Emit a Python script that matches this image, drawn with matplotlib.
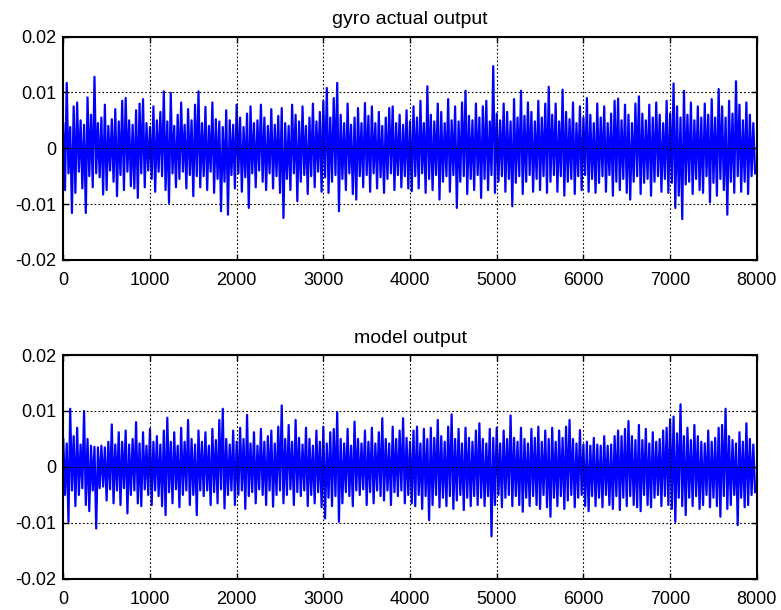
import matplotlib
matplotlib.use('Agg')
import matplotlib.pyplot as plt
import numpy as np

plt.rcParams['font.family'] = ['Liberation Sans', 'DejaVu Sans']
plt.rcParams['axes.unicode_minus'] = False

# each stored value is the peak (upper) or trough (lower) of a 40-sample bin
bin_size = 40

# gyro actual output, units of 1e-3
gyro_upper = [
    4.5, 11.7, 3.8, 7.5, 8.2, 5.0, 4.2, 9.1, 6.0, 12.8, 4.5, 5.5, 7.8, 4.0, 5.2, 7.0, 4.8, 8.5, 9.0, 5.0,
    4.2, 6.8, 8.0, 8.8, 4.5, 3.8, 7.5, 5.0, 6.5, 10.2, 4.8, 9.9, 4.0, 6.0, 8.2, 4.2, 7.0, 5.0, 7.8, 10.2,
    4.5, 7.4, 4.0, 8.2, 5.2, 4.8, 3.8, 6.8, 5.0, 4.2, 7.8, 5.5, 3.8, 6.2, 7.5, 4.5, 5.0, 7.8, 5.5, 4.0,
    7.0, 4.2, 5.8, 7.2, 4.5, 4.0, 7.8, 6.0, 4.8, 7.5, 4.0, 5.5, 8.0, 4.8, 6.5, 8.5, 10.8, 5.5, 9.0, 11.7,
    6.0, 4.5, 8.0, 4.2, 5.5, 7.2, 4.5, 8.1, 5.8, 7.5, 4.5, 6.5, 4.0, 5.5, 7.2, 7.5, 4.5, 6.0, 4.2, 6.8,
    4.8, 7.5, 5.5, 8.5, 4.5, 11.1, 6.0, 4.8, 8.0, 6.5, 4.5, 8.8, 5.0, 7.5, 4.8, 8.2, 10.3, 5.8, 5.0, 8.0,
    5.5, 7.5, 8.5, 4.8, 14.7, 6.2, 5.0, 8.0, 6.5, 4.8, 8.8, 5.5, 10.3, 5.8, 8.2, 6.5, 4.8, 8.5, 5.5, 8.0,
    11.0, 6.0, 8.0, 4.8, 10.5, 6.5, 5.2, 8.2, 4.5, 7.5, 5.5, 9.0, 6.0, 4.5, 8.0, 5.5, 7.5, 4.5, 6.2, 8.5,
    8.9, 5.0, 7.8, 6.0, 4.5, 8.0, 9.3, 6.2, 5.0, 7.8, 5.5, 8.2, 6.0, 4.5, 8.5, 6.2, 11.6, 7.5, 5.5, 10.3,
    6.0, 8.2, 5.0, 7.5, 5.5, 8.0, 6.0, 8.8, 5.5, 10.6, 7.5, 5.5, 8.5, 6.2, 12.0, 7.8, 5.0, 8.2, 6.0, 4.5]
gyro_lower = [
    -7.5, -4.5, -11.6, -8.0, -4.2, -7.2, -11.6, -5.0, -7.0, -4.5, -5.2, -8.3, -7.5, -4.0, -6.0, -8.6, -4.8, -7.5, -4.2, -6.8,
    -7.2, -8.9, -4.5, -7.0, -4.0, -5.5, -7.8, -4.2, -5.0, -7.5, -9.8, -4.5, -7.0, -5.5, -4.2, -7.2, -4.8, -8.6, -5.0, -7.0,
    -5.0, -7.5, -4.2, -8.0, -5.5, -11.3, -6.0, -11.9, -4.8, -7.2, -4.5, -7.8, -5.2, -10.7, -4.5, -7.0, -4.0, -6.0, -7.5, -4.5,
    -7.2, -5.0, -8.0, -12.5, -5.5, -7.5, -4.5, -9.5, -6.0, -4.8, -8.2, -5.0, -7.0, -4.2, -7.8, -5.2, -8.0, -6.0, -4.8, -11.3,
    -5.5, -7.5, -4.5, -8.2, -9.2, -5.0, -7.0, -4.8, -7.8, -4.5, -7.2, -5.2, -8.0, -5.5, -4.5, -7.5, -4.8, -7.0, -5.0, -7.2,
    -7.7, -5.0, -7.2, -4.5, -8.0, -5.5, -7.5, -4.8, -9.2, -6.0, -5.0, -7.8, -4.8, -10.7, -6.0, -5.0, -8.2, -5.5, -7.5, -4.8,
    -8.9, -5.5, -7.5, -4.8, -8.0, -6.0, -5.0, -7.8, -5.5, -10.4, -6.2, -5.0, -8.2, -6.0, -4.8, -7.8, -5.5, -7.5, -5.0, -8.0,
    -6.0, -4.8, -7.8, -5.0, -8.5, -6.0, -5.5, -8.2, -5.0, -7.5, -4.8, -7.8, -5.5, -8.0, -6.2, -5.0, -7.8, -4.8, -8.5, -6.0,
    -7.5, -5.5, -8.0, -9.2, -6.0, -5.0, -8.2, -6.2, -5.5, -8.5, -6.0, -5.0, -7.8, -5.5, -8.0, -6.2, -10.7, -8.5, -12.7, -6.5,
    -6.0, -8.2, -5.5, -7.5, -8.0, -5.0, -9.7, -6.2, -8.5, -5.5, -7.5, -11.9, -6.0, -8.0, -5.0, -7.8, -6.0, -8.2, -5.0, -4.5]

# model output, units of 1e-3
model_upper = [
    5.0, 4.2, 10.4, 5.5, 7.0, 4.0, 10.0, 5.0, 3.8, 3.6, 3.5, 3.8, 3.5, 4.5, 7.6, 4.0, 6.2, 4.5, 6.5, 4.0,
    5.0, 8.0, 4.2, 6.2, 3.8, 6.8, 4.5, 5.5, 4.0, 6.5, 8.8, 4.5, 6.2, 3.8, 7.0, 4.5, 8.4, 5.0, 4.0, 6.5,
    4.5, 6.2, 3.8, 6.8, 4.8, 8.4, 10.4, 5.0, 4.0, 6.5, 4.5, 7.0, 5.0, 9.3, 4.2, 6.2, 3.8, 6.8, 4.5, 5.5,
    6.5, 4.2, 7.2, 11.0, 5.0, 7.5, 4.5, 8.4, 5.2, 4.0, 7.0, 5.0, 3.8, 6.5, 4.5, 7.2, 4.2, 6.2, 6.8, 9.8,
    5.0, 4.2, 6.8, 3.8, 8.1, 5.0, 4.2, 6.5, 4.5, 7.0, 4.2, 6.2, 8.7, 5.0, 4.2, 7.2, 5.0, 6.5, 8.7, 5.2,
    4.5, 6.5, 7.2, 4.2, 6.8, 5.0, 7.0, 5.2, 8.4, 5.5, 4.5, 7.2, 9.4, 5.0, 6.8, 4.2, 7.0, 5.2, 4.5, 6.5,
    7.8, 5.0, 4.2, 6.8, 5.2, 7.0, 4.2, 6.5, 5.0, 9.2, 5.2, 4.5, 7.0, 5.0, 4.2, 6.8, 5.2, 7.2, 4.5, 6.5,
    5.0, 7.0, 4.5, 6.5, 5.2, 7.2, 8.4, 5.0, 4.2, 6.6, 4.0, 4.5, 3.8, 5.2, 4.0, 3.8, 5.5, 3.8, 4.0, 5.5,
    6.5, 5.5, 6.8, 8.2, 5.5, 4.8, 7.5, 4.8, 6.8, 4.2, 6.2, 4.5, 5.0, 6.5, 7.0, 8.5, 9.0, 6.0, 11.2, 5.5,
    7.0, 4.8, 7.5, 5.5, 4.5, 4.2, 6.5, 4.5, 5.2, 7.0, 7.5, 10.4, 5.5, 4.8, 4.2, 6.2, 4.5, 7.8, 5.0, 4.0]
model_lower = [
    -5.0, -9.8, -4.2, -7.0, -5.0, -3.8, -6.8, -7.9, -4.2, -11.0, -3.8, -3.5, -6.0, -4.0, -6.5, -4.2, -6.8, -3.8, -8.3, -5.0,
    -4.2, -6.5, -7.0, -4.0, -5.0, -6.8, -4.2, -5.2, -7.0, -8.6, -4.5, -6.5, -4.0, -7.2, -5.0, -4.2, -6.8, -5.0, -8.6, -4.2,
    -5.2, -4.2, -6.8, -4.5, -6.5, -4.0, -7.4, -5.0, -4.2, -6.8, -5.0, -4.2, -7.5, -5.2, -4.5, -6.5, -4.0, -5.0, -6.8, -4.2,
    -7.1, -5.0, -4.2, -6.5, -5.0, -4.0, -6.8, -4.5, -5.2, -4.2, -7.0, -5.0, -6.5, -4.5, -7.2, -9.2, -5.5, -7.0, -5.2, -9.8,
    -6.5, -4.5, -5.2, -7.0, -4.2, -5.0, -4.0, -6.8, -4.5, -6.5, -4.2, -5.2, -6.0, -4.2, -6.8, -4.5, -5.2, -4.2, -6.5, -5.0,
    -6.5, -7.0, -5.0, -7.5, -5.2, -9.5, -6.8, -5.0, -7.2, -5.5, -7.0, -5.2, -7.5, -6.0, -5.0, -7.7, -5.5, -7.0, -5.2, -6.8,
    -5.5, -7.0, -5.2, -12.4, -6.8, -5.0, -7.2, -5.5, -5.0, -7.0, -5.2, -6.8, -8.0, -5.5, -7.0, -5.2, -6.8, -7.5, -5.0, -7.2,
    -8.9, -5.5, -7.0, -5.2, -7.5, -6.0, -5.0, -7.2, -5.5, -5.0, -7.0, -7.9, -5.2, -7.0, -5.5, -7.2, -5.0, -6.8, -7.5, -5.2,
    -7.7, -5.5, -7.0, -5.2, -6.8, -7.2, -7.9, -5.0, -6.8, -7.2, -5.5, -5.0, -7.0, -5.2, -6.8, -7.5, -9.8, -5.5, -7.0, -8.6,
    -5.5, -7.0, -5.2, -7.5, -6.8, -5.0, -7.2, -5.5, -7.0, -8.9, -5.2, -7.5, -6.8, -5.0, -10.4, -5.5, -7.2, -6.8, -5.0, -4.5]

titles = ['gyro actual output', 'model output']
x_ticks = [0, 1000, 2000, 3000, 4000, 5000, 6000, 7000, 8000]
y_ticks = [-0.02, -0.01, 0, 0.01, 0.02]
y_labels = ['-0.02', '-0.01', '0', '0.01', '0.02']

fig = plt.figure(figsize=(7.81, 6.10), dpi=100)
rects = [[0.081, 0.574, 0.888, 0.366], [0.081, 0.051, 0.888, 0.367]]
series = [(gyro_upper, gyro_lower), (model_upper, model_lower)]

for i, (up, lo) in enumerate(series):
    ax = fig.add_axes(rects[i])
    n = len(up)
    # peak then trough inside every bin
    y = np.column_stack([up, lo]).ravel() * 1e-3
    x = np.column_stack([np.arange(n) * bin_size,
                         np.arange(n) * bin_size + bin_size / 2]).ravel()
    ax.plot(x, y, color=(0, 0, 1), linewidth=1.6)
    ax.set_xlim(0, 8000)
    ax.set_ylim(-0.02, 0.02)
    ax.set_xticks(x_ticks)
    ax.set_xticklabels([str(t) for t in x_ticks])
    ax.set_yticks(y_ticks)
    ax.set_yticklabels(y_labels)
    ax.grid(True, color='black', linestyle=(0, (1.5, 2)), linewidth=0.8)
    ax.set_axisbelow(False)
    ax.tick_params(direction='in', top=True, right=True, length=4,
                   width=1, labelsize=13)
    ax.tick_params(axis='x', pad=9)
    ax.tick_params(axis='y', pad=5)
    for sp in ax.spines.values():
        sp.set_linewidth(1.5)
    ax.set_title(titles[i], fontsize=14, pad=9)

fig.savefig('out.png', dpi=100, facecolor='white')
